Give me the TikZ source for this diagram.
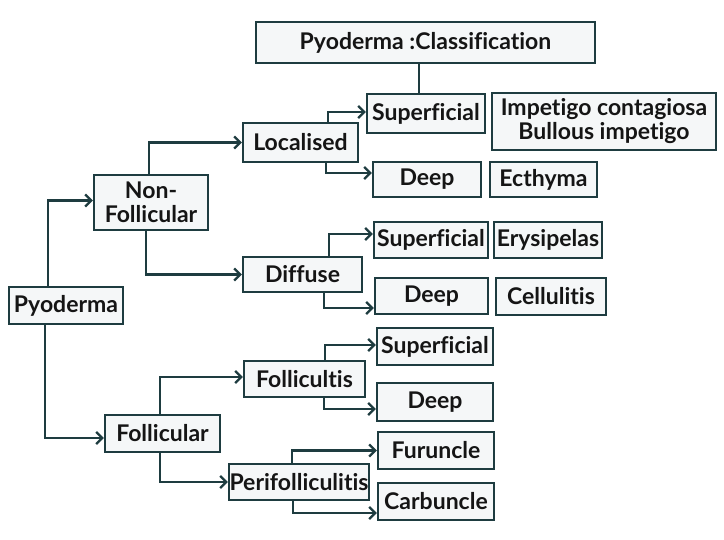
\documentclass[tikz,border=0pt]{standalone}
\usepackage{fontspec}
\setmainfont{Lato}[Ligatures={NoCommon}]
\usetikzlibrary{arrows.meta}
\definecolor{edge}{HTML}{1E3C40}
\definecolor{boxfill}{HTML}{F5F7F8}
\definecolor{txt}{HTML}{151515}
\tikzset{
  box/.style={draw=edge, line width=2.3pt, fill=boxfill, inner sep=0pt, align=center,
    text=txt, font=\bfseries\fontsize{23}{24}\selectfont},
  conn/.style={draw=edge, line width=2.3pt},
  arr/.style={conn, -{Straight Barb[length=6pt,width=12pt,line width=2.3pt]}}
}
\newcommand{\bx}[6]{\node[box, minimum width=#4pt, minimum height=#5pt] (#1) at (#2,#3) {#6};}
\begin{document}
\begin{tikzpicture}[x=1pt,y=-1pt]
\useasboundingbox (0,0) rectangle (724,539);
\fill[white] (0,0) rectangle (724,539);
\bx{title}{425.5}{42.5}{339}{41}{Pyoderma :Classification}
\bx{sup1}{426}{113.5}{118}{39}{Superficial}
\bx{imp}{604}{121.5}{224}{57}{Impetigo contagiosa\\Bullous impetigo}
\bx{deep1}{427}{179.5}{108}{35}{Deep}
\bx{ecth}{543.5}{179.5}{107}{35}{Ecthyma}
\bx{loc}{300.5}{142.5}{115}{39}{Localised}
\bx{sup2}{431}{240}{114}{36}{Superficial}
\bx{erys}{548}{240}{108}{36}{Erysipelas}
\bx{diff}{302.5}{274.5}{119}{35}{Diffuse}
\bx{deep2}{431.5}{296}{113}{36}{Deep}
\bx{cell}{551}{296.5}{110}{37}{Cellulitis}
\bx{sup3}{435}{346.5}{116}{37}{Superficial}
\bx{deep3}{435}{402}{116}{38}{Deep}
\bx{furu}{436}{450.5}{116}{37}{Furuncle}
\bx{carb}{436}{501.5}{116}{37}{Carbuncle}
\bx{folt}{304.5}{379}{121}{36}{Follicultis}
\bx{peri}{299}{482}{140}{36}{Perifolliculitis}
\bx{folr}{162.5}{433.5}{115}{37}{Follicular}
\bx{pyo}{66}{305.5}{114}{37}{Pyoderma}
\bx{nonf}{151}{202.5}{114}{55}{Non-\\Follicular}
% connectors
\draw[conn] ([xshift=-6.5pt]title.south) -- ([xshift=-7pt]sup1.north);
\draw[arr] ([xshift=-18pt]pyo.north) |- ([yshift=2pt]nonf.west);
\draw[arr] ([xshift=-21pt]pyo.south) |- ([yshift=-4.5pt]folr.west);
\draw[arr] ([xshift=-2pt]nonf.north) |- (loc.west);
\draw[arr] ([xshift=-5pt]nonf.south) |- (diff.west);
\draw[arr] ([xshift=27.5pt]loc.north) |- ([yshift=1.5pt]sup1.west);
\draw[arr] ([xshift=25.5pt]loc.south) |- ([yshift=6.5pt]deep1.west);
\draw[arr] ([xshift=26.5pt]diff.north) |- ([yshift=6pt]sup2.west);
\draw[arr] ([xshift=21.5pt]diff.south) |- ([yshift=-12pt]deep2.west);
\draw[arr] ([xshift=-2.5pt]folr.north) |- ([yshift=2pt]folt.west);
\draw[arr] ([xshift=-2.5pt]folr.south) |- (peri.west);
\draw[arr] ([xshift=20.5pt]folt.north) |- ([yshift=1.5pt]sup3.west);
\draw[arr] ([xshift=19.5pt]folt.south) |- ([yshift=-7pt]deep3.west);
\draw[arr] ([xshift=-7pt]peri.north) |- (furu.west);
\draw[arr] ([xshift=-6pt]peri.south) |- ([yshift=-11.5pt]carb.west);
\end{tikzpicture}
\end{document}
